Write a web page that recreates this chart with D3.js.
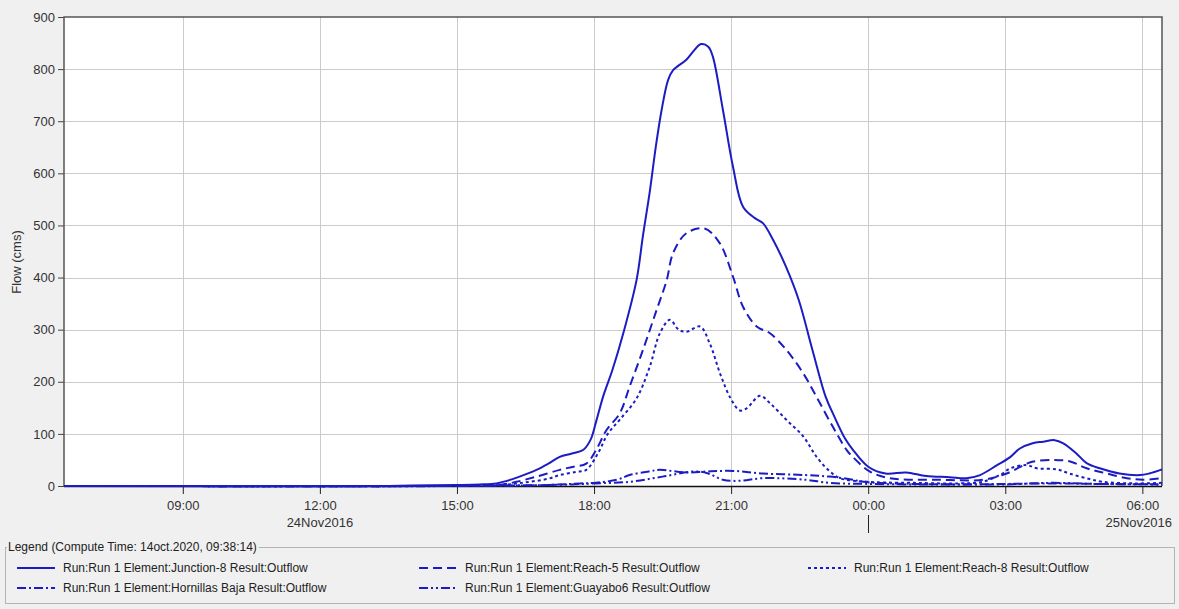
<!DOCTYPE html>
<html>
<head>
<meta charset="utf-8">
<script src="https://cdn.jsdelivr.net/npm/d3@7"></script>
<style>
  body { margin: 0; background: #f0f0f0; }
  svg { display: block; font-family: "Liberation Sans", Arial, sans-serif; }
  .grid line { stroke: #cbcbcb; stroke-width: 1; }
  .tick-label { font-size: 13px; fill: #333; }
  .legend-text { font-size: 12px; fill: #222; }
</style>
</head>
<body>
<div id="chart"></div>
<script>
// hours counted from 24Nov2016 00:00
var junction8 = [[6.4,0],[13.3,0],[14.0,1],[15.0,2],[15.5,3],[15.86,5],[16.1,10],[16.37,18],[16.74,31],[17.0,43],[17.25,56],[17.5,62],[17.76,69],[17.92,88],[18.05,125],[18.2,172],[18.4,222],[18.64,293],[18.93,395],[19.07,480],[19.22,565],[19.35,650],[19.48,722],[19.62,779],[19.73,798],[20.02,818],[20.2,837],[20.34,848],[20.5,843],[20.6,824],[20.82,722],[21.04,613],[21.26,536],[21.52,514],[21.7,504],[21.92,472],[22.2,421],[22.48,357],[22.78,261],[23.07,171],[23.25,135],[23.5,90],[23.67,69],[24.0,37],[24.38,24],[24.83,26],[25.27,19],[25.78,17],[26.15,15],[26.45,21],[26.82,40],[27.1,55],[27.32,72],[27.6,82],[27.83,85],[28.08,88],[28.27,82],[28.55,63],[28.78,44],[29.07,34],[29.5,24],[29.95,21],[30.15,24],[30.43,32]];

var reach5 = [[6.4,0],[14.5,0],[15.5,1],[16.0,3],[16.3,8],[16.74,18],[17.25,31],[17.55,37],[17.83,43],[18.05,70],[18.27,107],[18.56,139],[18.78,191],[19.07,261],[19.37,338],[19.59,395],[19.73,447],[20.02,485],[20.42,494],[20.75,466],[21.04,402],[21.26,344],[21.56,306],[21.85,293],[22.21,261],[22.58,216],[22.87,171],[23.23,113],[23.53,69],[23.66,56],[24.03,28],[24.47,15],[25.57,12],[26.51,12],[27.03,24],[27.47,43],[27.61,47],[28.05,50],[28.42,47],[28.78,34],[29.22,24],[29.66,15],[30.02,12],[30.43,15]];

var reach8 = [[6.4,0],[14.5,0],[15.5,1],[16.0,2],[16.5,7],[17.0,14],[17.25,21],[17.6,27],[17.83,31],[18.1,65],[18.3,100],[18.56,127],[18.93,168],[19.22,229],[19.44,293],[19.66,319],[19.85,300],[20.02,296],[20.32,306],[20.53,274],[20.77,213],[20.99,168],[21.19,145],[21.34,149],[21.63,173],[21.85,159],[22.21,127],[22.58,95],[22.87,56],[23.16,28],[23.38,15],[24.0,8],[25.0,6],[26.0,5],[26.5,8],[26.9,22],[27.11,34],[27.47,40],[27.69,34],[28.13,32],[28.4,24],[28.77,15],[29.13,8],[29.85,5],[30.43,6]];

var hornillasBaja = [[6.4,0],[15.0,0],[16.0,1],[17.0,2],[17.7,5],[18.0,6],[18.5,12],[18.78,21],[19.2,28],[19.44,31],[20.0,26],[20.5,28],[21.04,29],[21.7,24],[22.63,21],[23.15,18],[23.6,13],[23.9,8],[24.5,5],[25.0,4],[26.0,3],[27.0,4],[28.0,5],[29.0,4],[30.43,3]];

var guayabo6 = [[6.4,0],[15.5,0],[16.5,1],[17.5,3],[18.0,5],[18.78,8],[19.5,18],[20.2,28],[20.5,24],[20.82,12],[21.2,10],[21.7,15],[22.63,12],[23.15,6],[24.0,4],[25.0,3],[26.0,3],[27.0,3],[28.0,6],[29.0,4],[30.43,3]];

var seriesNames = [
  "Run:Run 1 Element:Junction-8 Result:Outflow",
  "Run:Run 1 Element:Reach-5 Result:Outflow",
  "Run:Run 1 Element:Reach-8 Result:Outflow",
  "Run:Run 1 Element:Hornillas Baja Result:Outflow",
  "Run:Run 1 Element:Guayabo6 Result:Outflow"
];
var seriesData = [junction8, reach5, reach8, hornillasBaja, guayabo6];
var dashes = [null, "9,5", "3,3", "9,3,2,3", "9,3,2,3,2,3"];

var xTicks = [9, 12, 15, 18, 21, 24, 27, 30];
var xTickLabels = ["09:00", "12:00", "15:00", "18:00", "21:00", "00:00", "03:00", "06:00"];
var dateLabels = [[12, "24Nov2016"], [30, "25Nov2016"]];
var yTicks = [0, 100, 200, 300, 400, 500, 600, 700, 800, 900];
var legendTitle = "Legend (Compute Time: 14oct.2020, 09:38:14)";

var W = 1179, H = 609;
var margin = {top: 17, right: 17, bottom: 123, left: 64},
    width = W - margin.left - margin.right,
    height = H - margin.top - margin.bottom;
var lineColor = "#1c1cc4";

var x = d3.scaleLinear().domain([6.4, 30.43]).range([0, width]);
var y = d3.scaleLinear().domain([0, 900]).range([height, 0]);

var svg = d3.select("#chart").append("svg")
    .attr("width", W)
    .attr("height", H);

var g = svg.append("g")
    .attr("transform", "translate(" + margin.left + "," + margin.top + ")");

g.append("rect")
  .attr("width", width)
  .attr("height", height)
  .attr("fill", "#fff");

// grid
var grid = g.append("g").attr("class", "grid");
grid.selectAll(".gx").data(xTicks).enter().append("line")
  .attr("x1", function(d) { return Math.round(x(d)) + 0.5; })
  .attr("x2", function(d) { return Math.round(x(d)) + 0.5; })
  .attr("y1", 0).attr("y2", height);
grid.selectAll(".gy").data(yTicks.slice(1, -1)).enter().append("line")
  .attr("x1", 0).attr("x2", width)
  .attr("y1", function(d) { return Math.round(y(d)) + 0.5; })
  .attr("y2", function(d) { return Math.round(y(d)) + 0.5; });

// y axis
var yAxis = g.append("g")
    .call(d3.axisLeft(y).tickValues(yTicks).tickSize(6).tickPadding(3));
yAxis.select(".domain").remove();
yAxis.selectAll(".tick line").attr("stroke", "#444");
yAxis.selectAll("text").attr("class", "tick-label").attr("font-size", null).attr("fill", null);

// x axis
var xAxis = g.append("g")
    .attr("transform", "translate(0," + height + ")")
    .call(d3.axisBottom(x).tickValues(xTicks).tickSize(8).tickPadding(7)
      .tickFormat(function(d, i) { return xTickLabels[i]; }));
xAxis.select(".domain").remove();
xAxis.selectAll(".tick line").attr("stroke", "#222");
xAxis.selectAll("text").attr("class", "tick-label").attr("font-size", null).attr("fill", null);

g.selectAll(".date-label").data(dateLabels).enter().append("text")
  .attr("class", "tick-label")
  .attr("x", function(d) { return d[0] === 30 ? width + 10 : x(d[0]); })
  .attr("y", height + 41)
  .attr("text-anchor", function(d) { return d[0] === 30 ? "end" : "middle"; })
  .text(function(d) { return d[1]; });

g.append("line")
  .attr("x1", Math.round(x(24)) + 0.5).attr("x2", Math.round(x(24)) + 0.5)
  .attr("y1", height + 29).attr("y2", height + 47)
  .attr("stroke", "#222");

// plot frame
g.append("path")
  .attr("d", "M0," + height + "V0H" + width + "V" + height)
  .attr("fill", "none").attr("stroke", "#555").attr("stroke-width", 1.5);
g.append("line")
  .attr("x1", 0).attr("x2", width)
  .attr("y1", height + 0.5).attr("y2", height + 0.5)
  .attr("stroke", "#111").attr("stroke-width", 1.3);

// series
var line = d3.line()
    .x(function(d) { return x(d[0]); })
    .y(function(d) { return y(d[1]); })
    .curve(d3.curveCatmullRom.alpha(0.5));

g.selectAll(".series").data(seriesData).enter().append("path")
  .attr("class", "series")
  .attr("d", line)
  .attr("fill", "none")
  .attr("stroke", lineColor)
  .attr("stroke-width", 2)
  .attr("stroke-dasharray", function(d, i) { return dashes[i]; });

// y title
svg.append("text")
  .attr("class", "tick-label")
  .attr("transform", "translate(21,262) rotate(-90)")
  .attr("text-anchor", "middle")
  .text("Flow (cms)");

// legend group box
var legend = svg.append("g");
legend.append("rect")
  .attr("x", 5.5).attr("y", 547.5)
  .attr("width", 1169).attr("height", 56)
  .attr("fill", "none").attr("stroke", "#b4b4b4");
var lt = legend.append("text")
  .attr("class", "legend-text")
  .attr("x", 8).attr("y", 551)
  .text(legendTitle);
var bb = lt.node().getBBox();
legend.insert("rect", "text")
  .attr("x", bb.x - 1).attr("y", bb.y)
  .attr("width", bb.width + 3).attr("height", bb.height)
  .attr("fill", "#f0f0f0");

var colX = [17, 419, 808];
var rowY = [568, 588];
var items = legend.selectAll(".item").data(seriesNames).enter().append("g")
  .attr("transform", function(d, i) {
    return "translate(" + colX[i % 3] + "," + rowY[Math.floor(i / 3)] + ")";
  });
items.append("line")
  .attr("x1", 0).attr("x2", 38)
  .attr("y1", 0).attr("y2", 0)
  .attr("stroke", lineColor)
  .attr("stroke-width", 2)
  .attr("stroke-dasharray", function(d, i) { return dashes[i]; });
items.append("text")
  .attr("class", "legend-text")
  .attr("x", 46).attr("y", 4)
  .text(function(d) { return d; });
</script>
</body>
</html>
